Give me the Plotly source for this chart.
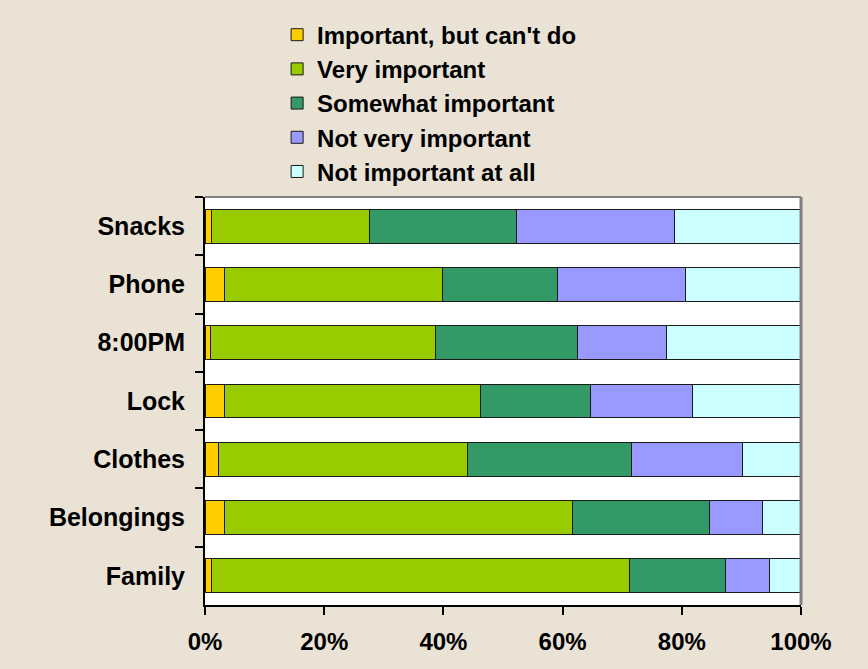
import plotly.graph_objects as go

categories = ["Snacks", "Phone", "8:00PM", "Lock", "Clothes", "Belongings", "Family"]
series_names = ["Important, but can't do", "Very important", "Somewhat important",
                "Not very important", "Not important at all"]
important_cant = [1.1, 3.2, 1.0, 3.2, 2.2, 3.3, 1.1]
very_important = [26.5, 36.6, 37.7, 43.0, 41.8, 58.3, 70.2]
somewhat_important = [24.6, 19.4, 23.8, 18.4, 27.5, 23.1, 16.0]
not_very_important = [26.6, 21.4, 14.9, 17.2, 18.6, 8.8, 7.4]
not_important_all = [21.2, 19.4, 22.6, 18.2, 9.9, 6.5, 5.3]
x_ticks = [0, 20, 40, 60, 80, 100]

colors = ["#FFCC00", "#99CC00", "#339966", "#9999FF", "#CCFFFF"]
values = [important_cant, very_important, somewhat_important, not_very_important, not_important_all]

fig = go.Figure()
for name, vals, col in zip(series_names, values, colors):
    fig.add_trace(go.Bar(
        y=categories, x=vals, name=name, orientation="h",
        marker=dict(color=col, line=dict(color="#1a1a1a", width=1)),
    ))

font_family = "Liberation Sans, Arial, sans-serif"
fig.update_layout(
    barmode="stack",
    bargap=0.42,
    width=868, height=669,
    paper_bgcolor="#E9E2D5",
    plot_bgcolor="#FFFFFF",
    margin=dict(l=205, r=67, t=197, b=64),
    font=dict(family=font_family, color="#000000"),
    legend=dict(
        x=0.121, y=1.452, xanchor="left", yanchor="top",
        traceorder="normal",
        font=dict(family=font_family, size=24, color="#000000", weight="bold"),
        bgcolor="rgba(0,0,0,0)",
        itemwidth=30,
        tracegroupgap=0,
    ),
    showlegend=True,
)
fig.update_xaxes(
    range=[0, 100], tickvals=x_ticks, ticktext=[f"{v}%" for v in x_ticks],
    showgrid=False, zeroline=False,
    showline=True, linecolor="#000000", linewidth=2,
    ticks="outside", ticklen=8, tickwidth=2, tickcolor="#000000",
    ticklabelstandoff=6,
    tickfont=dict(family=font_family, size=24, color="#000000", weight="bold"),
    fixedrange=True,
)
fig.update_yaxes(
    categoryorder="array", categoryarray=categories, autorange="reversed",
    showgrid=False, zeroline=False,
    showline=True, linecolor="#000000", linewidth=2,
    ticks="outside", ticklen=8, tickwidth=2, tickcolor="#000000",
    tickson="boundaries",
    ticklabelstandoff=13,
    tickfont=dict(family=font_family, size=25, color="#000000", weight="bold"),
    fixedrange=True,
)
# gray top and right frame of the plot area
fig.add_shape(type="line", xref="paper", yref="paper", x0=0, x1=1, y0=1, y1=1,
              line=dict(color="#808080", width=2))
fig.add_shape(type="line", xref="paper", yref="paper", x0=1, x1=1, y0=0, y1=1,
              line=dict(color="#808080", width=3))

fig.write_html("out.html")
